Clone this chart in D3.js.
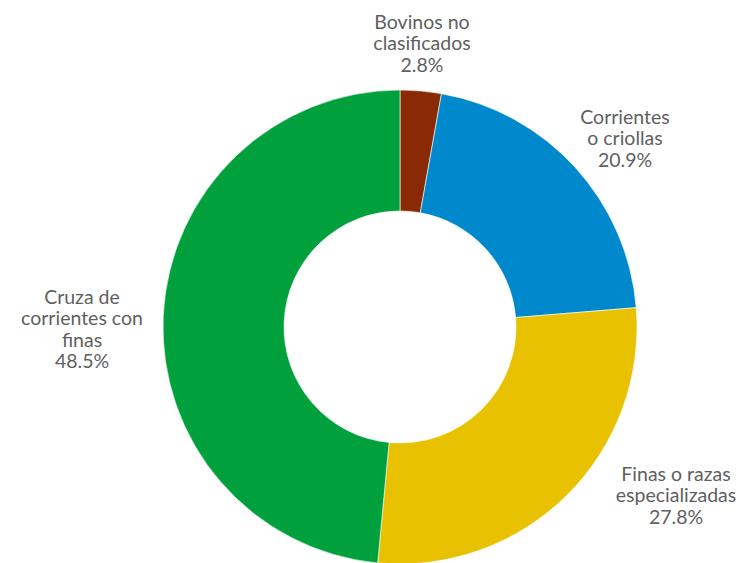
<!DOCTYPE html>
<html>
<head>
<meta charset="utf-8">
<script src="https://cdn.jsdelivr.net/npm/d3@7"></script>
<style>
  body { margin: 0; background: #fff; }
  text { font-family: "Lato", "Open Sans", sans-serif; fill: #5f5f5f; }
</style>
</head>
<body>
<div id="chart"></div>
<script>
// data
var categories = ["Bovinos no clasificados", "Corrientes o criollas", "Finas o razas especializadas", "Cruza de corrientes con finas"];
var values = [2.8, 20.9, 27.8, 48.5];
var colors = ["#8a2a04", "#0088cc", "#e8c100", "#00a03c"];
var labelLines = [
  ["Bovinos no", "clasificados", "2.8%"],
  ["Corrientes", "o criollas", "20.9%"],
  ["Finas o razas", "especializadas", "27.8%"],
  ["Cruza de", "corrientes con", "finas", "48.5%"]
];
// label anchor (center of first line) per slice
var labelPos = [[422, 22], [625, 117], [676, 474], [82, 297]];

var width = 743, height = 563;
var cx = 400, cy = 327, outerR = 237, innerR = 116;

var svg = d3.select("#chart").append("svg")
  .attr("width", width)
  .attr("height", height);

var g = svg.append("g").attr("transform", "translate(" + cx + "," + cy + ")");

var pie = d3.pie().sort(null).value(function (d) { return d; });
var arc = d3.arc().innerRadius(innerR).outerRadius(outerR);

g.selectAll("path")
  .data(pie(values))
  .enter()
  .append("path")
  .attr("d", arc)
  .style("fill", function (d, i) { return colors[i]; })
  .style("stroke", "#fff")
  .style("stroke-width", 0.6);

// labels
var lineH = 21.5;
labelLines.forEach(function (lines, i) {
  var t = svg.append("text")
    .attr("text-anchor", "middle")
    .attr("font-size", 19.5);
  lines.forEach(function (s, j) {
    t.append("tspan")
      .attr("x", labelPos[i][0])
      .attr("y", labelPos[i][1] + 6.5 + j * lineH)
      .text(s);
  });
});
</script>
</body>
</html>
